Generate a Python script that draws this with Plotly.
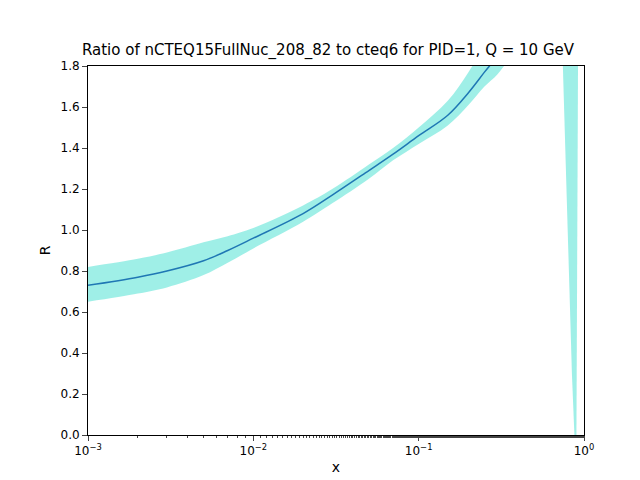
import plotly.graph_objects as go

# ratio and error band
x = [0.001, 0.002, 0.003, 0.005, 0.007, 0.01, 0.02, 0.03, 0.05, 0.07, 0.1, 0.15, 0.2, 0.25, 0.3, 0.4]
r_mid = [0.73, 0.77, 0.80, 0.85, 0.90, 0.96, 1.08, 1.17, 1.29, 1.37, 1.46, 1.56, 1.67, 1.77, 1.85, 2.0]
r_hi = [0.82, 0.86, 0.89, 0.94, 0.97, 1.01, 1.12, 1.20, 1.32, 1.40, 1.50, 1.63, 1.77, 1.90, 2.02, 2.3]
r_lo = [0.65, 0.69, 0.72, 0.78, 0.84, 0.91, 1.04, 1.13, 1.25, 1.34, 1.42, 1.51, 1.61, 1.70, 1.76, 1.90]

# band near x -> 1 where the ratio plunges
x_tail = [0.745, 0.92, 0.90, 0.875, 0.845, 0.745]
r_tail = [1.8, 1.8, 0.0, 0.0, 0.3, 1.8]

band = "rgba(64,224,208,0.5)"

fig = go.Figure()
fig.add_trace(go.Scatter(x=x, y=r_lo, mode="lines", line=dict(width=0, shape="spline"), showlegend=False))
fig.add_trace(go.Scatter(x=x, y=r_hi, mode="lines", line=dict(width=0, shape="spline"), fill="tonexty",
                         fillcolor=band, showlegend=False))
fig.add_trace(go.Scatter(x=x_tail, y=r_tail, mode="lines", line=dict(width=0), fill="toself",
                         fillcolor=band, showlegend=False))
fig.add_trace(go.Scatter(x=x, y=r_mid, mode="lines", line=dict(color="#1f77b4", width=1.5, shape="spline"),
                         showlegend=False))

fig.update_layout(
    width=640, height=480,
    paper_bgcolor="white", plot_bgcolor="white",
    font=dict(family="DejaVu Sans", size=12, color="black"),
    title=dict(text="Ratio of nCTEQ15FullNuc_208_82 to cteq6 for PID=1, Q = 10 GeV",
               x=0.5, xanchor="center", y=0.925, font=dict(size=15)),
    margin=dict(l=80, r=64, t=58, b=53, autoexpand=False),
    xaxis=dict(type="log", range=[-3, 0], title=dict(text="x", standoff=4),
               tickvals=[0.001, 0.01, 0.1, 1],
               ticktext=["10<sup>−3</sup>", "10<sup>−2</sup>", "10<sup>−1</sup>", "10<sup>0</sup>"],
               ticks="outside", showline=True, linecolor="black", mirror=True, automargin=False,
               showgrid=False, zeroline=False, minor=dict(ticks="outside", ticklen=2)),
    yaxis=dict(range=[0, 1.8], title=dict(text="R", standoff=6), dtick=0.2, tickformat=".1f",
               ticks="outside", showline=True, linecolor="black", mirror=True, automargin=False,
               showgrid=False, zeroline=False),
)

fig.write_html("out.html")
